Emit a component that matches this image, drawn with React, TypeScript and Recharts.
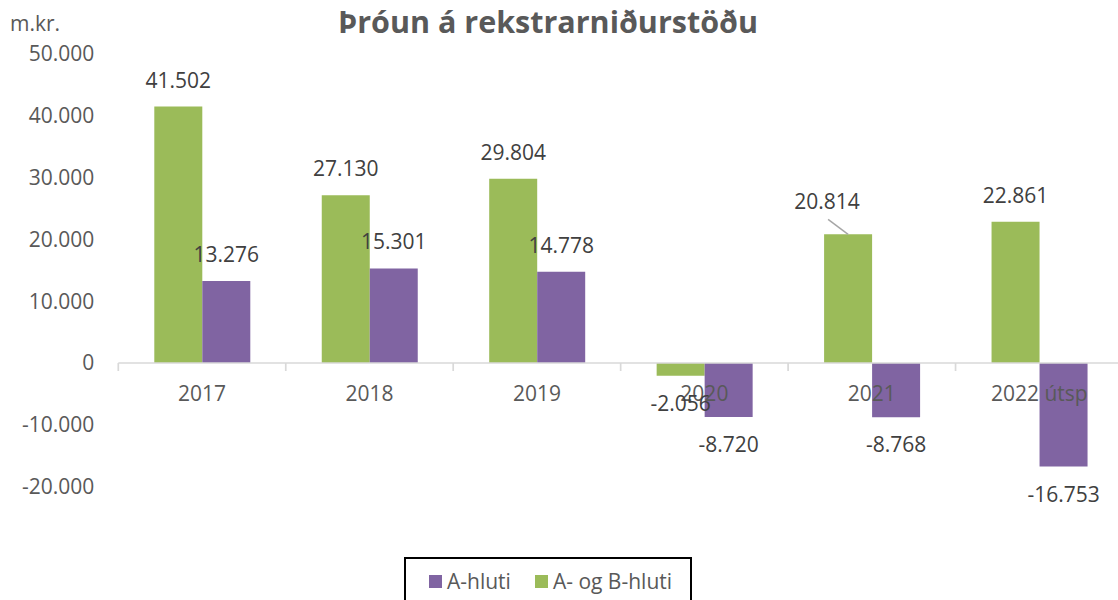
import React from 'react';
import { BarChart, Bar, XAxis, YAxis, ReferenceLine, LabelList, Legend } from 'recharts';

const CATEGORIES = ['2017', '2018', '2019', '2020', '2021', '2022 útsp'];
const A_HLUTI = [13276, 15301, 14778, -8720, -8768, -16753];
const AB_HLUTI = [41502, 27130, 29804, -2056, 20814, 22861];
const Y_TICKS = [-20000, -10000, 0, 10000, 20000, 30000, 40000, 50000];

// Office-style colours
const COLORS = {
    a: '#8064A2',
    ab: '#9BBB59',
    text: '#595959',
    label: '#404040',
    axis: '#D9D9D9',
    leader: '#A6A6A6',
};

const FONT = '"Open Sans", sans-serif';

// chart geometry (axis placement, not marks)
const CHART_W = 1123;
const CHART_H = 600;
const MARGIN = { top: 54, right: 0, bottom: 83.4, left: 0 };
const Y_AXIS_W = 118.3;
const X_AXIS_H = 30;
const Y_MIN = -20000;
const Y_MAX = 50000;
const PLOT_H = CHART_H - MARGIN.top - MARGIN.bottom - X_AXIS_H;
const ZERO_Y = MARGIN.top + (Y_MAX / (Y_MAX - Y_MIN)) * PLOT_H;
const BAND = (CHART_W - Y_AXIS_W) / CATEGORIES.length;

const data = CATEGORIES.map((name, i) => ({ name, a: A_HLUTI[i], ab: AB_HLUTI[i] }));

const fmt = (n: number) => {
    const s = Math.abs(Math.round(n)).toString().replace(/\B(?=(\d{3})+(?!\d))/g, '.');
    return n < 0 ? '-' + s : s;
};

const CatTick = (props: any) => {
    const { x, payload, index } = props;
    return (
        <g>
            <text x={x} y={ZERO_Y + 38} textAnchor="middle" fill={COLORS.text} fontSize={21} fontFamily={FONT}>
                {payload.value}
            </text>
            <line x1={x - BAND / 2} x2={x - BAND / 2} y1={ZERO_Y} y2={ZERO_Y + 8} stroke={COLORS.axis} strokeWidth={1.7} />
            {index === CATEGORIES.length - 1 && (
                <line x1={x + BAND / 2} x2={x + BAND / 2} y1={ZERO_Y} y2={ZERO_Y + 8} stroke={COLORS.axis} strokeWidth={1.7} />
            )}
        </g>
    );
};

const makeLabel = (series: 'a' | 'ab') => (props: any) => {
    const { x, y, width, height, value, index } = props;
    const top = Math.min(y, y + height);
    const bottom = Math.max(y, y + height);
    const cx = x + width / 2;
    // 2021 green label was dragged aside in the original, with a leader line
    if (series === 'ab' && index === 4) {
        return (
            <g key={`l-${series}-${index}`}>
                <line x1={cx - 20} y1={top - 15} x2={cx} y2={top} stroke={COLORS.leader} strokeWidth={1.5} />
                <text x={cx - 21} y={top - 25} textAnchor="middle" fill={COLORS.label} fontSize={21} fontFamily={FONT}>
                    {fmt(value)}
                </text>
            </g>
        );
    }
    return (
        <text key={`l-${series}-${index}`} x={cx} y={value >= 0 ? top - 19 : bottom + 35} textAnchor="middle" fill={COLORS.label} fontSize={21} fontFamily={FONT}>
            {fmt(value)}
        </text>
    );
};

const LegendBox = () => (
    <div style={{ width: 288, height: 60, border: '2px solid #000', boxSizing: 'border-box', position: 'relative', background: '#fff' }}>
        <div style={{ position: 'absolute', top: 10, left: 23, display: 'flex', alignItems: 'center', height: 24, fontFamily: FONT, fontSize: 21, color: COLORS.text, whiteSpace: 'nowrap' }}>
            <span style={{ width: 13, height: 13, background: COLORS.a, display: 'inline-block', marginRight: 5 }} />
            <span style={{ marginRight: 24 }}>A-hluti</span>
            <span style={{ width: 13, height: 13, background: COLORS.ab, display: 'inline-block', marginRight: 5 }} />
            <span>A- og B-hluti</span>
        </div>
    </div>
);

const App: React.FC = () => {
    return (
        <div style={{ position: 'absolute', left: 0, top: 0, width: 1118, height: 600, overflow: 'hidden', background: '#fff' }}>
            <div style={{ position: 'absolute', left: 10, top: 13, fontFamily: FONT, fontSize: 21, lineHeight: 1, color: COLORS.text }}>
                m.kr.
            </div>
            <div style={{ position: 'absolute', left: 0, width: 1096, top: 6, textAlign: 'center', fontFamily: FONT, fontSize: 30.5, fontWeight: 700, lineHeight: 1, color: COLORS.text }}>
                Þróun á rekstrarniðurstöðu
            </div>
            <BarChart width={CHART_W} height={CHART_H} data={data} margin={MARGIN} barSize={48} barGap={0}>
                <YAxis
                    width={Y_AXIS_W}
                    domain={[Y_MIN, Y_MAX]}
                    ticks={Y_TICKS}
                    allowDataOverflow
                    axisLine={false}
                    tickLine={false}
                    tickSize={0}
                    tickMargin={24}
                    tickFormatter={fmt}
                    tick={{ fill: COLORS.text, fontSize: 21, fontFamily: FONT }}
                />
                <XAxis dataKey="name" height={X_AXIS_H} axisLine={false} tickLine={false} tick={(p: any) => <CatTick {...p} />} interval={0} />
                <Bar dataKey="ab" name="A- og B-hluti" fill={COLORS.ab} isAnimationActive={false}>
                    <LabelList dataKey="ab" content={makeLabel('ab')} />
                </Bar>
                <Bar dataKey="a" name="A-hluti" fill={COLORS.a} isAnimationActive={false}>
                    <LabelList dataKey="a" content={makeLabel('a')} />
                </Bar>
                <ReferenceLine y={0} stroke={COLORS.axis} strokeWidth={1.7} />
                <Legend
                    layout="horizontal"
                    verticalAlign="middle"
                    align="center"
                    content={() => <LegendBox />}
                    wrapperStyle={{ position: 'absolute', left: 404, top: 557, width: 288, height: 60 }}
                />
            </BarChart>
        </div>
    );
};

export default App;
